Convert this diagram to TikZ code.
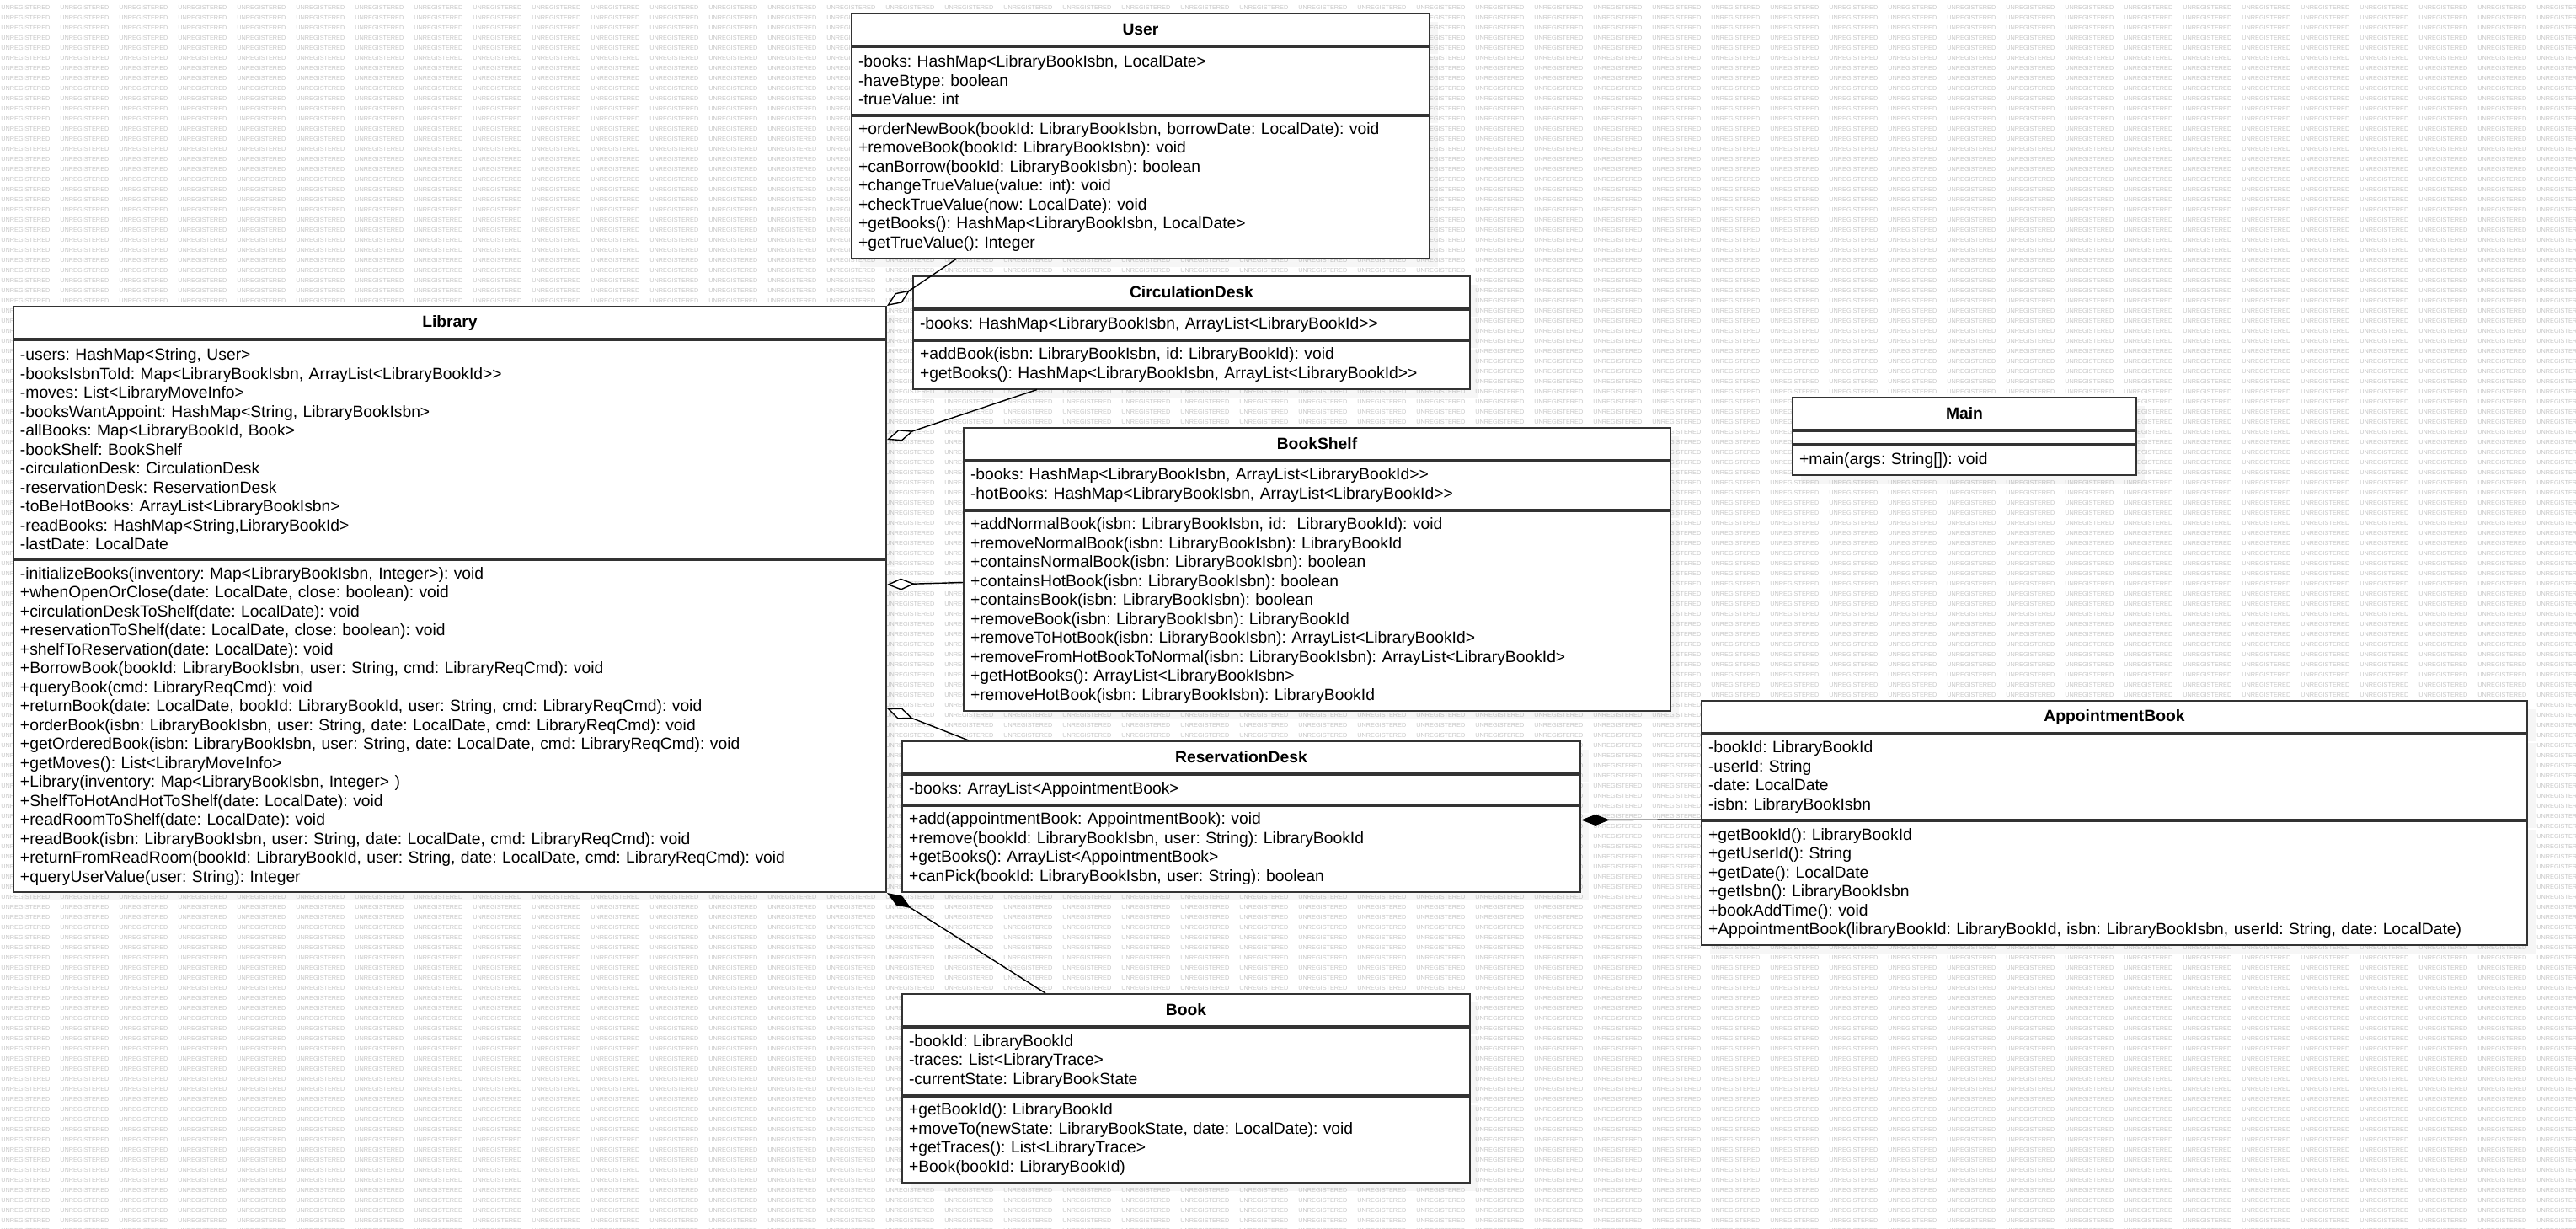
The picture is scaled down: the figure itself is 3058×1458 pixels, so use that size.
\documentclass[tikz,border=0pt]{standalone}
\usepackage{fontspec}
\setmainfont{Liberation Sans}
\usepackage{tikz}
\usetikzlibrary{arrows.meta,shadows}
\newcommand{\umlfont}{\fontsize{9.65}{11.25}\selectfont\frenchspacing}
\newcommand{\wmfont}{\fontsize{3.65}{4}\selectfont}
\newcommand{\wmcell}{\makebox[35pt][l]{UNREGISTERED}}
\newcommand{\wmfour}{\wmcell\wmcell\wmcell\wmcell}
\newcommand{\wmline}{\wmfour\wmfour\wmfour\wmfour\wmfour\wmfour\wmfour\wmfour\wmfour\wmfour\wmfour}
\tikzset{
  wmark/.style={anchor=west, inner sep=0pt, font=\wmfont, text=black!22},
  umlhead/.style={rectangle, draw=black!80, line width=1pt, fill=white,
                  font=\umlfont\bfseries, inner sep=0pt, anchor=north west,
                  minimum height=18.75pt,
                  drop shadow={shadow xshift=5pt, shadow yshift=-5pt, opacity=0.07}},
  umlpart/.style={rectangle, draw=black!80, line width=1pt, fill=white,
                  font=\umlfont, align=left, inner xsep=4pt, inner ysep=0pt,
                  anchor=north west,
                  drop shadow={shadow xshift=5pt, shadow yshift=-5pt, opacity=0.07}},
  aggr/.style={-{Diamond[fill=white, length=16.5pt, width=7pt]}, line width=0.7pt},
  comp/.style={-{Diamond[length=17pt, width=6.5pt]}, line width=0.7pt},
}
\begin{document}
\begin{tikzpicture}[x=0.5pt, y=-0.5pt]
  \useasboundingbox (0,0) rectangle (3058,1458);
  \fill[white] (0,0) rectangle (3058,1458);
  % Watermark rows
  \foreach \r in {0,...,121}
    \node[wmark] (wm\r) at (1,{8.7+12*\r}) {\wmline};
  % User
  \node[umlhead, minimum width=343pt] (usertitle) at (1010,15) {User};
  \node[umlpart, text width=335pt, minimum height=40pt] (userattr) at (usertitle.south west)
    {-books: HashMap<LibraryBookIsbn, LocalDate>\\-haveBtype: boolean\\-trueValue: int};
  \node[umlpart, text width=335pt, minimum height=84.5pt] (userops) at (userattr.south west)
    {+orderNewBook(bookId: LibraryBookIsbn, borrowDate: LocalDate): void\\
     +removeBook(bookId: LibraryBookIsbn): void\\
     +canBorrow(bookId: LibraryBookIsbn): boolean\\
     +changeTrueValue(value: int): void\\
     +checkTrueValue(now: LocalDate): void\\
     +getBooks(): HashMap<LibraryBookIsbn, LocalDate>\\
     +getTrueValue(): Integer};
  % Library
  \node[umlhead, minimum width=518pt, minimum height=19pt] (libtitle) at (15,363) {Library};
  \node[umlpart, text width=510pt, minimum height=129.5pt] (libattr) at (libtitle.south west)
    {-users: HashMap<String, User>\\
     -booksIsbnToId: Map<LibraryBookIsbn, ArrayList<LibraryBookId>{}>\\
     -moves: List<LibraryMoveInfo>\\
     -booksWantAppoint: HashMap<String, LibraryBookIsbn>\\
     -allBooks: Map<LibraryBookId, Book>\\
     -bookShelf: BookShelf\\
     -circulationDesk: CirculationDesk\\
     -reservationDesk: ReservationDesk\\
     -toBeHotBooks: ArrayList<LibraryBookIsbn>\\
     -readBooks: HashMap<String,LibraryBookId>\\
     -lastDate: LocalDate};
  \node[umlpart, text width=510pt, minimum height=197pt] (libops) at (libattr.south west)
    {-initializeBooks(inventory: Map<LibraryBookIsbn, Integer>): void\\
     +whenOpenOrClose(date: LocalDate, close: boolean): void\\
     +circulationDeskToShelf(date: LocalDate): void\\
     +reservationToShelf(date: LocalDate, close: boolean): void\\
     +shelfToReservation(date: LocalDate): void\\
     +BorrowBook(bookId: LibraryBookIsbn, user: String, cmd: LibraryReqCmd): void\\
     +queryBook(cmd: LibraryReqCmd): void\\
     +returnBook(date: LocalDate, bookId: LibraryBookId, user: String, cmd: LibraryReqCmd): void\\
     +orderBook(isbn: LibraryBookIsbn, user: String, date: LocalDate, cmd: LibraryReqCmd): void\\
     +getOrderedBook(isbn: LibraryBookIsbn, user: String, date: LocalDate, cmd: LibraryReqCmd): void\\
     +getMoves(): List<LibraryMoveInfo>\\
     +Library(inventory: Map<LibraryBookIsbn, Integer> )\\
     +ShelfToHotAndHotToShelf(date: LocalDate): void\\
     +readRoomToShelf(date: LocalDate): void\\
     +readBook(isbn: LibraryBookIsbn, user: String, date: LocalDate, cmd: LibraryReqCmd): void\\
     +returnFromReadRoom(bookId: LibraryBookId, user: String, date: LocalDate, cmd: LibraryReqCmd): void\\
     +queryUserValue(user: String): Integer};
  % CirculationDesk
  \node[umlhead, minimum width=330.5pt] (cdtitle) at (1083,327) {CirculationDesk};
  \node[umlpart, text width=322.5pt, minimum height=17.5pt] (cdattr) at (cdtitle.south west)
    {-books: HashMap<LibraryBookIsbn, ArrayList<LibraryBookId>{}>};
  \node[umlpart, text width=322.5pt, minimum height=28.5pt] (cdops) at (cdattr.south west)
    {+addBook(isbn: LibraryBookIsbn, id: LibraryBookId): void\\
     +getBooks(): HashMap<LibraryBookIsbn, ArrayList<LibraryBookId>{}>};
  % BookShelf
  \node[umlhead, minimum width=419.5pt] (bstitle) at (1143,507) {BookShelf};
  \node[umlpart, text width=411.5pt, minimum height=28.5pt] (bsattr) at (bstitle.south west)
    {-books: HashMap<LibraryBookIsbn, ArrayList<LibraryBookId>{}>\\
     -hotBooks: HashMap<LibraryBookIsbn, ArrayList<LibraryBookId>{}>};
  \node[umlpart, text width=411.5pt, minimum height=118.5pt] (bsops) at (bsattr.south west)
    {+addNormalBook(isbn: LibraryBookIsbn, id: \ LibraryBookId): void\\
     +removeNormalBook(isbn: LibraryBookIsbn): LibraryBookId\\
     +containsNormalBook(isbn: LibraryBookIsbn): boolean\\
     +containsHotBook(isbn: LibraryBookIsbn): boolean\\
     +containsBook(isbn: LibraryBookIsbn): boolean\\
     +removeBook(isbn: LibraryBookIsbn): LibraryBookId\\
     +removeToHotBook(isbn: LibraryBookIsbn): ArrayList<LibraryBookId>\\
     +removeFromHotBookToNormal(isbn: LibraryBookIsbn): ArrayList<LibraryBookId>\\
     +getHotBooks(): ArrayList<LibraryBookIsbn>\\
     +removeHotBook(isbn: LibraryBookIsbn): LibraryBookId};
  % Main
  \node[umlhead, minimum width=204pt] (maintitle) at (2127,471) {Main};
  \node[umlpart, text width=196pt, minimum height=7.5pt] (mainattr) at (maintitle.south west) {};
  \node[umlpart, text width=196pt, minimum height=17.5pt] (mainops) at (mainattr.south west)
    {+main(args: String[]): void};
  % ReservationDesk
  \node[umlhead, minimum width=402.5pt] (rdtitle) at (1070,879) {ReservationDesk};
  \node[umlpart, text width=394.5pt, minimum height=17.5pt] (rdattr) at (rdtitle.south west)
    {-books: ArrayList<AppointmentBook>};
  \node[umlpart, text width=394.5pt, minimum height=51pt] (rdops) at (rdattr.south west)
    {+add(appointmentBook: AppointmentBook): void\\
     +remove(bookId: LibraryBookIsbn, user: String): LibraryBookId\\
     +getBooks(): ArrayList<AppointmentBook>\\
     +canPick(bookId: LibraryBookIsbn, user: String): boolean};
  % AppointmentBook
  \node[umlhead, minimum width=490pt, minimum height=19pt] (abtitle) at (2019,831) {AppointmentBook};
  \node[umlpart, text width=482pt, minimum height=50.5pt] (abattr) at (abtitle.south west)
    {-bookId: LibraryBookId\\-userId: String\\-date: LocalDate\\-isbn: LibraryBookIsbn};
  \node[umlpart, text width=482pt, minimum height=73.5pt] (abops) at (abattr.south west)
    {+getBookId(): LibraryBookId\\
     +getUserId(): String\\
     +getDate(): LocalDate\\
     +getIsbn(): LibraryBookIsbn\\
     +bookAddTime(): void\\
     +AppointmentBook(libraryBookId: LibraryBookId, isbn: LibraryBookIsbn, userId: String, date: LocalDate)};
  % Book
  \node[umlhead, minimum width=337pt] (booktitle) at (1070,1179) {Book};
  \node[umlpart, text width=329pt, minimum height=40pt] (bookattr) at (booktitle.south west)
    {-bookId: LibraryBookId\\-traces: List<LibraryTrace>\\-currentState: LibraryBookState};
  \node[umlpart, text width=329pt, minimum height=51pt] (bookops) at (bookattr.south west)
    {+getBookId(): LibraryBookId\\
     +moveTo(newState: LibraryBookState, date: LocalDate): void\\
     +getTraces(): List<LibraryTrace>\\
     +Book(bookId: LibraryBookId)};
  % Associations
  \draw[aggr] ([xshift=62.5pt]userops.south west) -- (libtitle.north east);
  \draw[aggr] ([xshift=74pt]cdops.south west) -- ([yshift=-59.5pt]libattr.north east);
  \draw[aggr] ([yshift=-43pt]bsops.north west) -- ([yshift=-15pt]libops.north east);
  \draw[aggr] ([xshift=40pt]rdtitle.north west) -- ([yshift=-88.5pt]libops.north east);
  \draw[comp] ([xshift=85.5pt]booktitle.north west) -- (libops.south east);
  \draw[comp] ([yshift=0.5pt]abattr.south west) -- ([yshift=-9pt]rdops.north east);
\end{tikzpicture}
\end{document}
